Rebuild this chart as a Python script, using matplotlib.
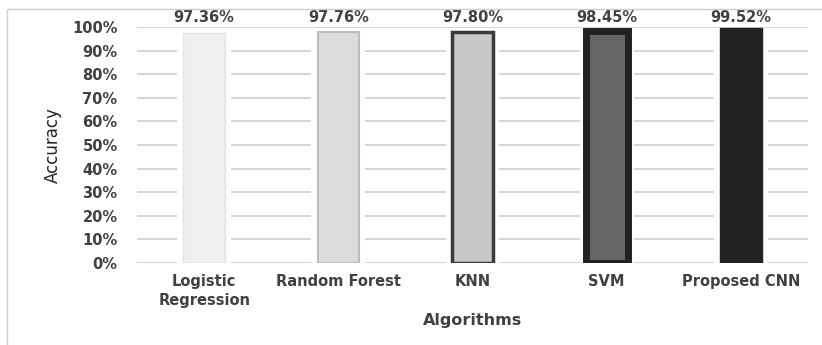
import matplotlib
matplotlib.use("Agg")
import matplotlib.pyplot as plt
import numpy as np
from matplotlib.patches import Rectangle

algorithms = ["Logistic\nRegression", "Random Forest", "KNN", "SVM", "Proposed CNN"]
accuracy = [97.36, 97.76, 97.80, 98.45, 99.52]
fills = ["#efefef", "#dcdcdc", "#c8c8c8", "#666666", "#222222"]
edges = ["#e2e2e2", "#bdbdbd", "#3a3a3a", "#222222", "#222222"]
edge_w = [1.0, 1.5, 2.5, 5.0, 1.0]

fig = plt.figure(figsize=(8.22, 3.45), dpi=100)
ax = fig.add_axes([0.1667, 0.2377, 0.8163, 0.684])

# thin frame around the chart area
fig.patches.append(Rectangle((0.0085, -0.1), 1.2, 1.074, transform=fig.transFigure,
                             fill=False, edgecolor="#cccccc", linewidth=1.0))

x = np.arange(len(algorithms))
w = 0.31

ax.set_ylim(0, 100)
ax.set_xlim(-0.5, len(algorithms) - 0.5)
ax.set_yticks(np.arange(0, 101, 10))
ax.set_yticklabels(["%d%%" % v for v in range(0, 101, 10)])
ax.yaxis.grid(True, color="#d2d2d2", linewidth=1.3, zorder=0)
ax.set_axisbelow(True)

# white halo so the gridlines stop short of the bars
ax.bar(x, accuracy, width=w + 0.09, color="white", zorder=1)
bars = ax.bar(x, accuracy, width=w, color=fills, edgecolor=edges, linewidth=edge_w, zorder=2)

for xi, v in zip(x, accuracy):
    ax.text(xi, 101.0, "%.2f%%" % v, ha="center", va="bottom", fontsize=10.5,
            fontweight="bold", color="#404040")

ax.set_xticks(x)
ax.set_xticklabels(algorithms, fontsize=10.5, fontweight="bold", color="#404040", linespacing=1.3)
for lab in ax.get_yticklabels():
    lab.set_fontsize(10.5)
    lab.set_fontweight("bold")
    lab.set_color("#404040")
ax.tick_params(axis="both", length=0)
ax.tick_params(axis="y", pad=14)
ax.tick_params(axis="x", pad=8)

for s in ax.spines.values():
    s.set_visible(False)

ax.set_xlabel("Algorithms", fontsize=11.5, fontweight="bold", color="#404040", labelpad=4)
ax.set_ylabel("Accuracy", fontsize=12, color="#222222",
              family=["Liberation Sans Narrow", "DejaVu Sans"], labelpad=7)

fig.savefig("out.png", dpi=100)
